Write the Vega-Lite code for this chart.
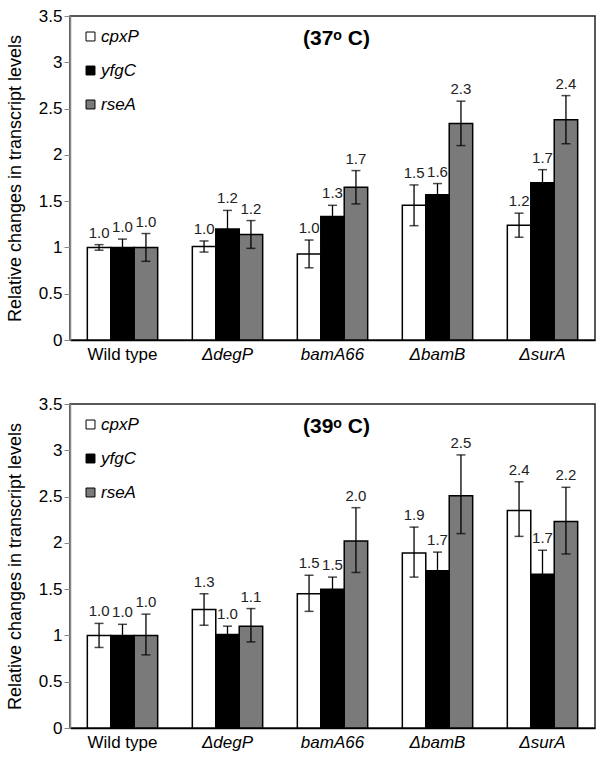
{
  "$schema": "https://vega.github.io/schema/vega-lite/v6.json",
  "padding": {"left": 5, "top": 6, "right": 2, "bottom": 0},
  "config": {
    "font": "Liberation Sans",
    "view": {"stroke": "#222", "strokeWidth": 1.5}
  },
  "datasets": {
    "d37": [
      {"strain": "Wild type", "gene": "cpxP", "value": 1.00, "lo": 0.97, "hi": 1.03, "label": "1.0"},
      {"strain": "Wild type", "gene": "yfgC", "value": 1.00, "lo": 0.91, "hi": 1.09, "label": "1.0"},
      {"strain": "Wild type", "gene": "rseA", "value": 1.00, "lo": 0.85, "hi": 1.15, "label": "1.0"},
      {"strain": "ΔdegP", "gene": "cpxP", "value": 1.01, "lo": 0.95, "hi": 1.07, "label": "1.0"},
      {"strain": "ΔdegP", "gene": "yfgC", "value": 1.20, "lo": 1.00, "hi": 1.40, "label": "1.2"},
      {"strain": "ΔdegP", "gene": "rseA", "value": 1.14, "lo": 0.99, "hi": 1.29, "label": "1.2"},
      {"strain": "bamA66", "gene": "cpxP", "value": 0.93, "lo": 0.78, "hi": 1.08, "label": "1.0"},
      {"strain": "bamA66", "gene": "yfgC", "value": 1.335, "lo": 1.215, "hi": 1.455, "label": "1.3"},
      {"strain": "bamA66", "gene": "rseA", "value": 1.65, "lo": 1.47, "hi": 1.83, "label": "1.7"},
      {"strain": "ΔbamB", "gene": "cpxP", "value": 1.455, "lo": 1.235, "hi": 1.675, "label": "1.5"},
      {"strain": "ΔbamB", "gene": "yfgC", "value": 1.57, "lo": 1.45, "hi": 1.69, "label": "1.6"},
      {"strain": "ΔbamB", "gene": "rseA", "value": 2.34, "lo": 2.10, "hi": 2.58, "label": "2.3"},
      {"strain": "ΔsurA", "gene": "cpxP", "value": 1.24, "lo": 1.11, "hi": 1.37, "label": "1.2"},
      {"strain": "ΔsurA", "gene": "yfgC", "value": 1.70, "lo": 1.56, "hi": 1.84, "label": "1.7"},
      {"strain": "ΔsurA", "gene": "rseA", "value": 2.38, "lo": 2.12, "hi": 2.64, "label": "2.4"}
    ],
    "d39": [
      {"strain": "Wild type", "gene": "cpxP", "value": 1.00, "lo": 0.87, "hi": 1.13, "label": "1.0"},
      {"strain": "Wild type", "gene": "yfgC", "value": 1.00, "lo": 0.88, "hi": 1.12, "label": "1.0"},
      {"strain": "Wild type", "gene": "rseA", "value": 1.00, "lo": 0.79, "hi": 1.23, "label": "1.0"},
      {"strain": "ΔdegP", "gene": "cpxP", "value": 1.28, "lo": 1.11, "hi": 1.45, "label": "1.3"},
      {"strain": "ΔdegP", "gene": "yfgC", "value": 1.01, "lo": 0.92, "hi": 1.10, "label": "1.0"},
      {"strain": "ΔdegP", "gene": "rseA", "value": 1.10, "lo": 0.93, "hi": 1.29, "label": "1.1"},
      {"strain": "bamA66", "gene": "cpxP", "value": 1.45, "lo": 1.26, "hi": 1.65, "label": "1.5"},
      {"strain": "bamA66", "gene": "yfgC", "value": 1.50, "lo": 1.37, "hi": 1.63, "label": "1.5"},
      {"strain": "bamA66", "gene": "rseA", "value": 2.02, "lo": 1.68, "hi": 2.38, "label": "2.0"},
      {"strain": "ΔbamB", "gene": "cpxP", "value": 1.89, "lo": 1.63, "hi": 2.17, "label": "1.9"},
      {"strain": "ΔbamB", "gene": "yfgC", "value": 1.70, "lo": 1.50, "hi": 1.90, "label": "1.7"},
      {"strain": "ΔbamB", "gene": "rseA", "value": 2.51, "lo": 2.10, "hi": 2.95, "label": "2.5"},
      {"strain": "ΔsurA", "gene": "cpxP", "value": 2.35, "lo": 2.07, "hi": 2.66, "label": "2.4"},
      {"strain": "ΔsurA", "gene": "yfgC", "value": 1.66, "lo": 1.40, "hi": 1.92, "label": "1.7"},
      {"strain": "ΔsurA", "gene": "rseA", "value": 2.23, "lo": 1.88, "hi": 2.60, "label": "2.2"}
    ]
  },
  "resolve": {"legend": {"color": "independent"}},
  "spacing": 31,
  "vconcat": [
    {
      "width": 525,
      "height": 324,
      "data": {"name": "d37"},
      "title": {"text": "(37ᵒ C)", "fontSize": 21, "fontWeight": "bold", "color": "black", "offset": -42, "frame": "group", "anchor": "middle", "baseline": "top", "dx": 4},
      "encoding": {
        "x": {"field": "strain", "type": "nominal", "sort": ["Wild type", "ΔdegP", "bamA66", "ΔbamB", "ΔsurA"],
          "scale": {"paddingInner": 0.33, "paddingOuter": 0.165},
          "axis": {"title": null, "labelAngle": 0, "labelFontSize": 17, "labelColor": "black", "ticks": false, "domainColor": "black", "domainWidth": 1.5, "labelPadding": 6,
            "labelFontStyle": {"condition": {"test": "datum.value === 'Wild type'", "value": "normal"}, "value": "italic"}}},
        "xOffset": {"field": "gene", "type": "nominal", "sort": ["cpxP", "yfgC", "rseA"]}
      },
      "layer": [
        {
          "mark": {"type": "bar", "stroke": "black", "strokeWidth": 1.5},
          "encoding": {
            "y": {"field": "value", "type": "quantitative", "scale": {"domain": [0, 3.5]},
              "axis": {"title": "Relative changes in transcript levels", "titleFontSize": 18, "titleFontWeight": "normal", "titleColor": "black", "values": [0, 0.5, 1, 1.5, 2, 2.5, 3, 3.5], "format": "~g", "labelFontSize": 17, "labelColor": "black", "grid": false, "domainColor": "#888", "domainWidth": 1.5, "tickColor": "#888", "tickSize": 6, "titlePadding": 14}},
            "color": {"field": "gene", "type": "nominal", "sort": ["cpxP", "yfgC", "rseA"],
              "scale": {"domain": ["cpxP", "yfgC", "rseA"], "range": ["white", "black", "#7a7a7a"]},
              "legend": {"title": null, "orient": "top-left", "offset": 12, "symbolType": "square", "symbolSize": 80, "symbolStrokeColor": "black", "symbolStrokeWidth": 1, "labelFontSize": 17, "labelFontStyle": "italic", "labelColor": "black", "rowPadding": 16, "labelOffset": 2, "padding": 0}}
          }
        },
        {
          "mark": {"type": "rule", "color": "black", "strokeWidth": 1.3},
          "encoding": {"y": {"field": "lo", "type": "quantitative"}, "y2": {"field": "hi"}}
        },
        {
          "mark": {"type": "tick", "color": "black", "thickness": 1.5, "size": 9},
          "encoding": {"y": {"field": "lo", "type": "quantitative"}}
        },
        {
          "mark": {"type": "tick", "color": "black", "thickness": 1.5, "size": 9},
          "encoding": {"y": {"field": "hi", "type": "quantitative"}}
        },
        {
          "mark": {"type": "text", "baseline": "bottom", "dy": -4, "fontSize": 15, "color": "#222"},
          "encoding": {"y": {"field": "hi", "type": "quantitative"}, "text": {"field": "label"}}
        }
      ]
    },
    {
      "width": 525,
      "height": 324,
      "data": {"name": "d39"},
      "title": {"text": "(39ᵒ C)", "fontSize": 21, "fontWeight": "bold", "color": "black", "offset": -42, "frame": "group", "anchor": "middle", "baseline": "top", "dx": 4},
      "encoding": {
        "x": {"field": "strain", "type": "nominal", "sort": ["Wild type", "ΔdegP", "bamA66", "ΔbamB", "ΔsurA"],
          "scale": {"paddingInner": 0.33, "paddingOuter": 0.165},
          "axis": {"title": null, "labelAngle": 0, "labelFontSize": 17, "labelColor": "black", "ticks": false, "domainColor": "black", "domainWidth": 1.5, "labelPadding": 6,
            "labelFontStyle": {"condition": {"test": "datum.value === 'Wild type'", "value": "normal"}, "value": "italic"}}},
        "xOffset": {"field": "gene", "type": "nominal", "sort": ["cpxP", "yfgC", "rseA"]}
      },
      "layer": [
        {
          "mark": {"type": "bar", "stroke": "black", "strokeWidth": 1.5},
          "encoding": {
            "y": {"field": "value", "type": "quantitative", "scale": {"domain": [0, 3.5]},
              "axis": {"title": "Relative changes in transcript levels", "titleFontSize": 18, "titleFontWeight": "normal", "titleColor": "black", "values": [0, 0.5, 1, 1.5, 2, 2.5, 3, 3.5], "format": "~g", "labelFontSize": 17, "labelColor": "black", "grid": false, "domainColor": "#888", "domainWidth": 1.5, "tickColor": "#888", "tickSize": 6, "titlePadding": 14}},
            "color": {"field": "gene", "type": "nominal", "sort": ["cpxP", "yfgC", "rseA"],
              "scale": {"domain": ["cpxP", "yfgC", "rseA"], "range": ["white", "black", "#7a7a7a"]},
              "legend": {"title": null, "orient": "top-left", "offset": 12, "symbolType": "square", "symbolSize": 80, "symbolStrokeColor": "black", "symbolStrokeWidth": 1, "labelFontSize": 17, "labelFontStyle": "italic", "labelColor": "black", "rowPadding": 16, "labelOffset": 2, "padding": 0}}
          }
        },
        {
          "mark": {"type": "rule", "color": "black", "strokeWidth": 1.3},
          "encoding": {"y": {"field": "lo", "type": "quantitative"}, "y2": {"field": "hi"}}
        },
        {
          "mark": {"type": "tick", "color": "black", "thickness": 1.5, "size": 9},
          "encoding": {"y": {"field": "lo", "type": "quantitative"}}
        },
        {
          "mark": {"type": "tick", "color": "black", "thickness": 1.5, "size": 9},
          "encoding": {"y": {"field": "hi", "type": "quantitative"}}
        },
        {
          "mark": {"type": "text", "baseline": "bottom", "dy": -4, "fontSize": 15, "color": "#222"},
          "encoding": {"y": {"field": "hi", "type": "quantitative"}, "text": {"field": "label"}}
        }
      ]
    }
  ]
}
